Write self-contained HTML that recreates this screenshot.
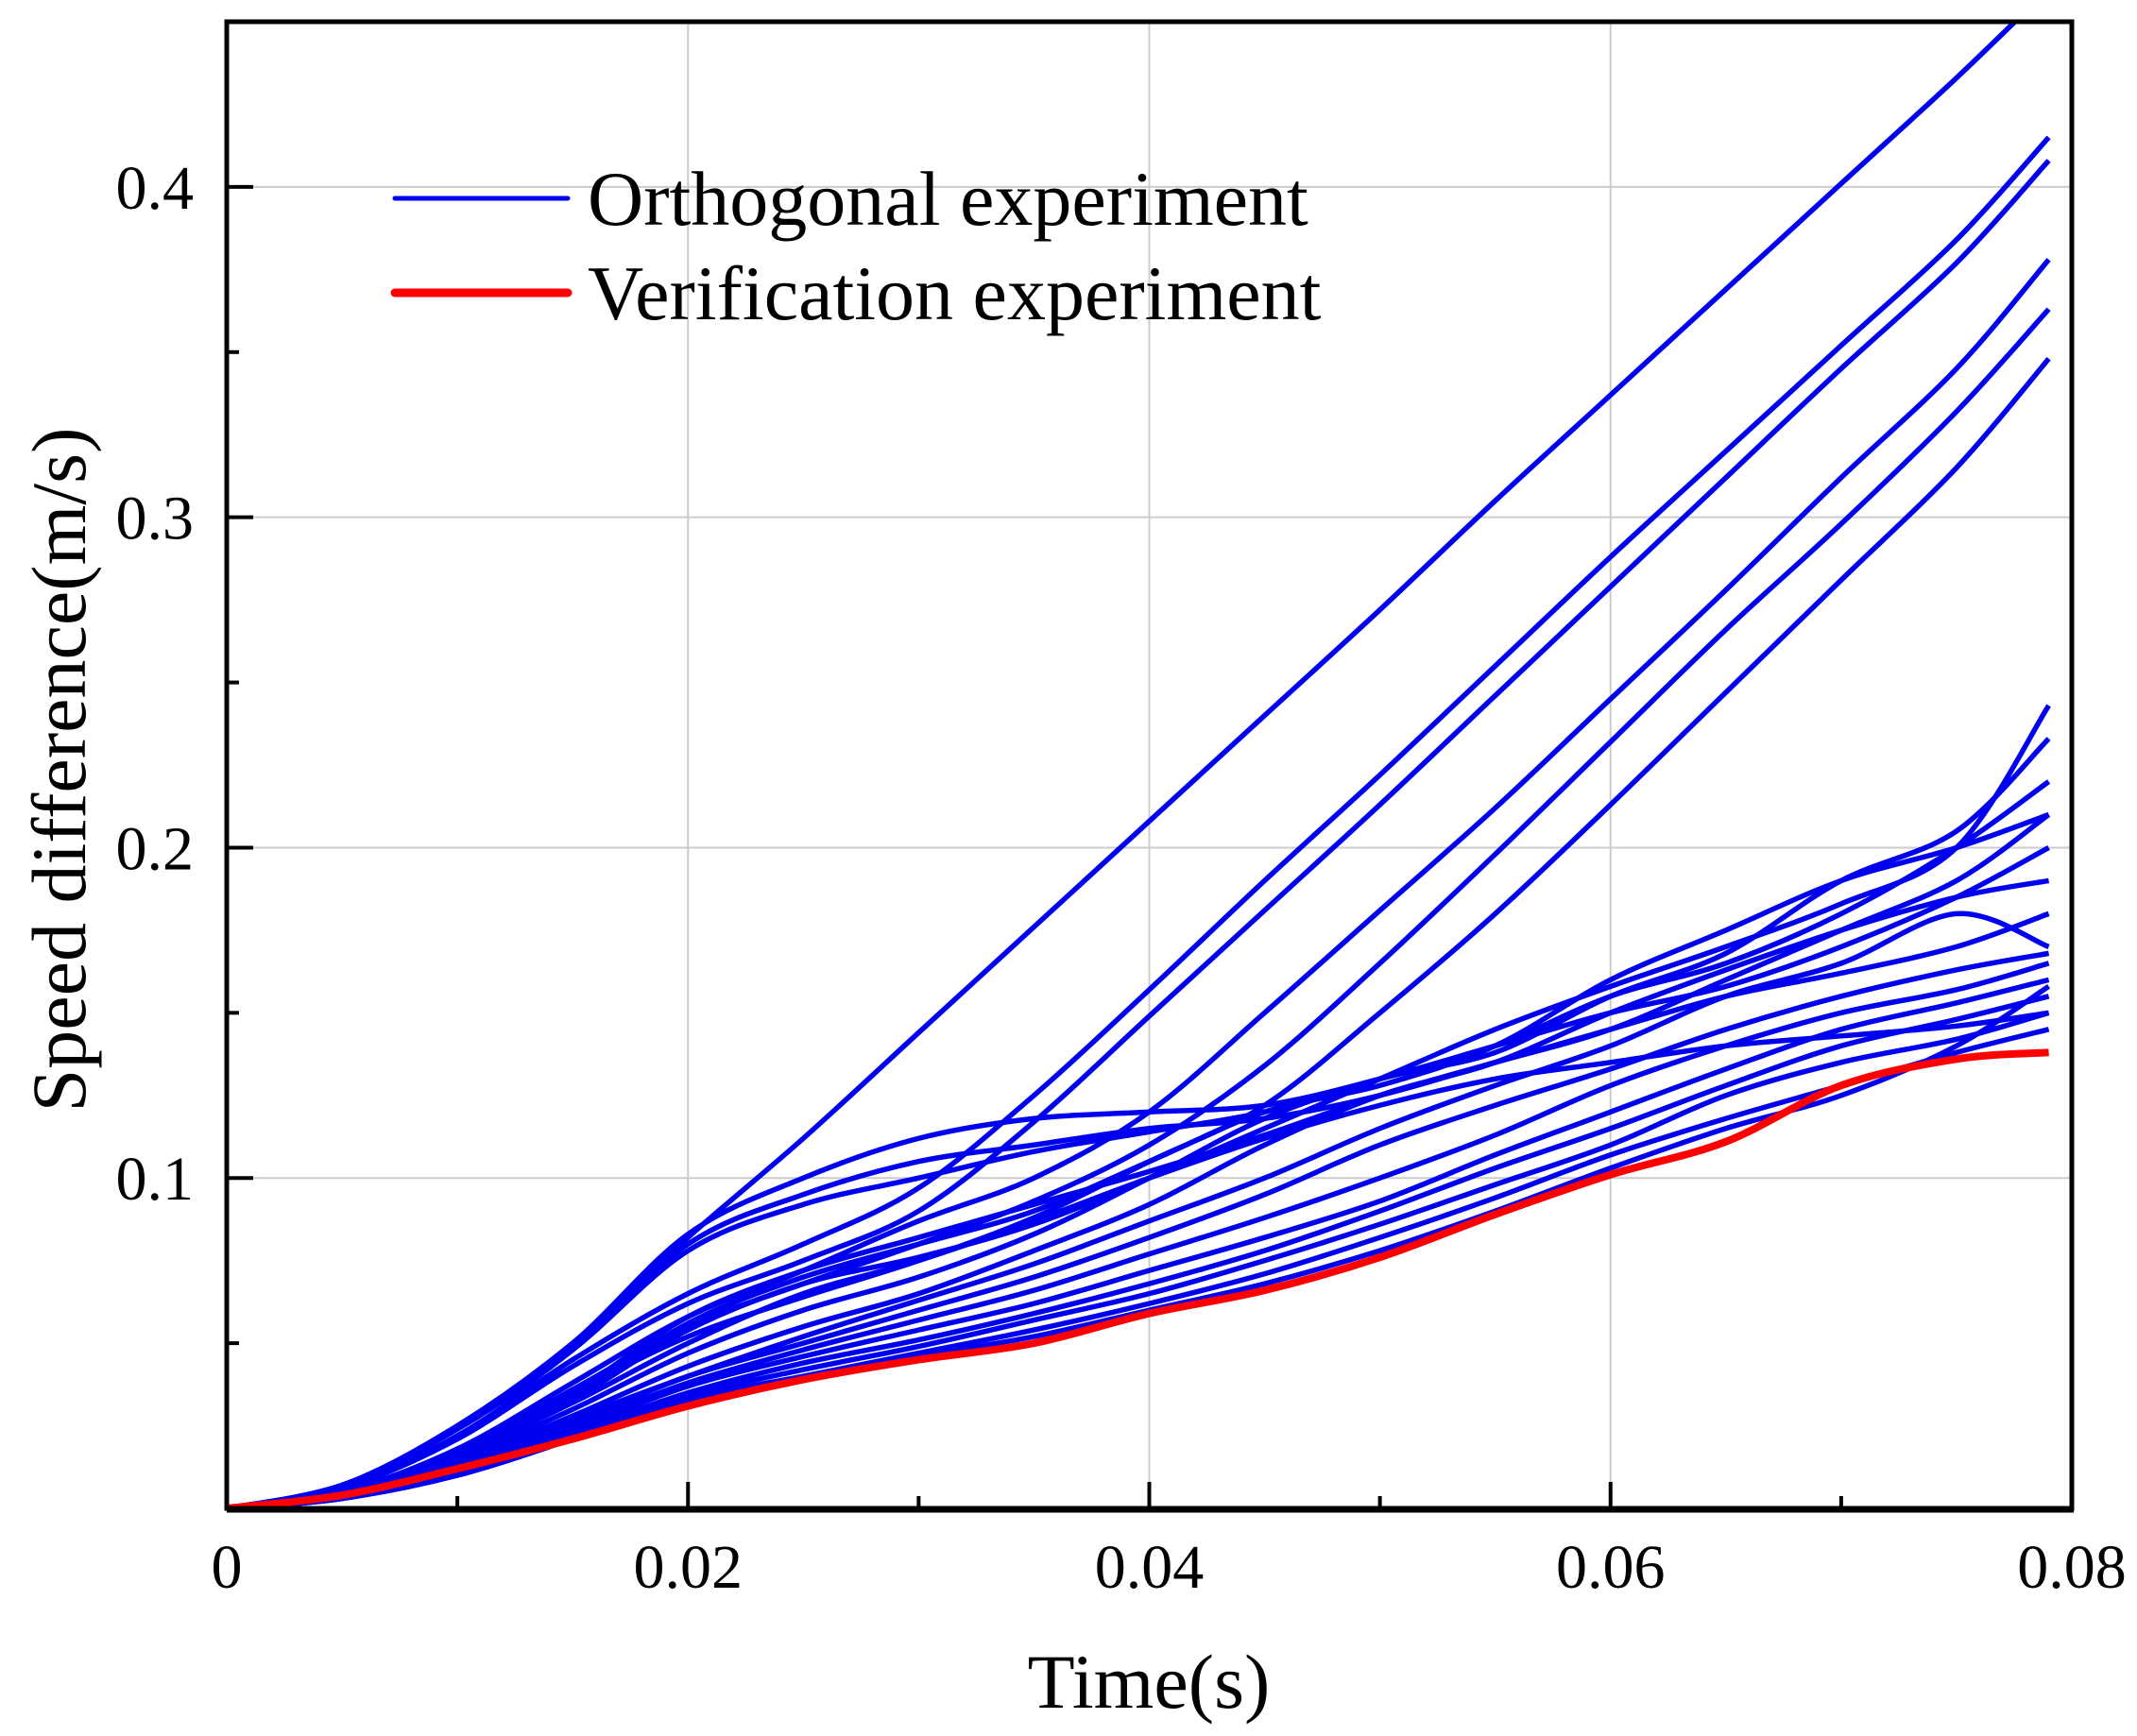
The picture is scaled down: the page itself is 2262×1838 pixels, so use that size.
<!DOCTYPE html>
<html><head><meta charset="utf-8"><style>
html,body{margin:0;padding:0;background:#fff;}
svg{display:block;font-family:"Liberation Serif",serif;}
</style></head><body>
<svg id="chart" width="2262" height="1838" viewBox="0 0 2262 1838" xmlns="http://www.w3.org/2000/svg">
<defs><clipPath id="pc"><rect x="240" y="23" width="1953" height="1574"/></clipPath></defs>
<g id="grid"></g>
<g id="series" clip-path="url(#pc)"></g>
<g id="axes"></g>
<g>
<line x1="418" y1="210" x2="601" y2="210" stroke="#0000f0" stroke-width="5" stroke-linecap="round"/>
<text x="622" y="238" font-size="82">Orthogonal experiment</text>
<line x1="418" y1="310" x2="601" y2="310" stroke="#ff0000" stroke-width="9" stroke-linecap="round"/>
<text x="622" y="338" font-size="82">Verification experiment</text>
</g>
<text x="1216" y="1808" font-size="82" text-anchor="middle">Time(s)</text>
<text transform="translate(90,815) rotate(-90)" font-size="82" text-anchor="middle">Speed difference(m/s)</text>
</svg>
<script>
const times=[0,0.005,0.01,0.015,0.02,0.025,0.03,0.035,0.04,0.045,0.05,0.055,0.06,0.065,0.07,0.075,0.079];
const xTicks=[0,0.02,0.04,0.06,0.08];
const xTickLabels=["0","0.02","0.04","0.06","0.08"];
const yTicks=[0.1,0.2,0.3,0.4];
const yTickLabels=["0.1","0.2","0.3","0.4"];
const verification=[0,0.004,0.012,0.021,0.031,0.039,0.045,0.05,0.059,0.066,0.076,0.089,0.101,0.111,0.128,0.136,0.138];
const L1=[0,0.007,0.025,0.05,0.082,0.112,0.144,0.176,0.208,0.24,0.272,0.305,0.337,0.369,0.401,0.433,0.46];
const L2=[0,0.006,0.022,0.045,0.065,0.08,0.097,0.125,0.157,0.19,0.222,0.255,0.288,0.32,0.352,0.384,0.415];
const L3=[0,0.006,0.021,0.043,0.062,0.075,0.09,0.117,0.149,0.181,0.213,0.246,0.279,0.312,0.345,0.377,0.408];
const L4=[0,0.005,0.018,0.038,0.058,0.072,0.087,0.1,0.12,0.15,0.181,0.212,0.245,0.278,0.312,0.345,0.378];
const L5=[0,0.005,0.017,0.036,0.055,0.068,0.08,0.093,0.11,0.134,0.165,0.198,0.232,0.266,0.298,0.332,0.363];
const L6=[0,0.005,0.017,0.035,0.052,0.064,0.075,0.088,0.105,0.122,0.15,0.18,0.213,0.247,0.281,0.315,0.348];
const P1=[0,0.007,0.025,0.05,0.083,0.1,0.112,0.118,0.12,0.122,0.13,0.14,0.15,0.158,0.17,0.185,0.2];
const P2=[0,0.007,0.024,0.048,0.08,0.095,0.105,0.11,0.115,0.118,0.125,0.135,0.145,0.16,0.175,0.19,0.21];
const P3=[0,0.007,0.024,0.048,0.078,0.092,0.1,0.108,0.114,0.12,0.13,0.14,0.155,0.165,0.18,0.2,0.22];
const M1=[0,0.005,0.017,0.035,0.058,0.072,0.082,0.092,0.102,0.113,0.125,0.135,0.145,0.155,0.162,0.17,0.18];
const M2=[0,0.005,0.016,0.033,0.054,0.068,0.076,0.086,0.1,0.115,0.13,0.145,0.158,0.17,0.183,0.2,0.243];
const M3=[0,0.005,0.015,0.03,0.047,0.06,0.07,0.083,0.1,0.118,0.13,0.138,0.155,0.168,0.19,0.205,0.233];
const M4=[0,0.004,0.014,0.028,0.043,0.055,0.065,0.078,0.092,0.11,0.125,0.135,0.15,0.163,0.175,0.185,0.19];
const M5=[0,0.004,0.013,0.027,0.04,0.052,0.063,0.074,0.087,0.1,0.115,0.128,0.14,0.155,0.165,0.18,0.17];
const M6=[0,0.004,0.013,0.026,0.04,0.05,0.06,0.07,0.082,0.095,0.11,0.122,0.133,0.145,0.155,0.163,0.168];
const M7=[0,0.004,0.012,0.025,0.038,0.048,0.057,0.066,0.077,0.088,0.1,0.113,0.128,0.14,0.15,0.157,0.165];
const M8=[0,0.004,0.012,0.024,0.037,0.046,0.054,0.062,0.072,0.082,0.093,0.107,0.12,0.133,0.145,0.153,0.16];
const M9=[0,0.003,0.011,0.023,0.035,0.044,0.051,0.059,0.068,0.078,0.09,0.103,0.115,0.128,0.14,0.148,0.155];
const M10=[0,0.003,0.011,0.022,0.034,0.042,0.049,0.057,0.065,0.075,0.086,0.098,0.11,0.125,0.135,0.142,0.15];
const M11=[0,0.003,0.01,0.021,0.033,0.04,0.047,0.054,0.062,0.071,0.082,0.094,0.107,0.118,0.128,0.138,0.145];
const M12=[0,0.003,0.01,0.021,0.032,0.039,0.046,0.052,0.06,0.068,0.078,0.09,0.103,0.115,0.125,0.14,0.158];
const M13=[0,0.005,0.016,0.032,0.05,0.065,0.075,0.087,0.1,0.112,0.122,0.13,0.135,0.14,0.143,0.146,0.15];
const M14=[0,0.005,0.017,0.034,0.056,0.07,0.08,0.09,0.105,0.12,0.128,0.14,0.16,0.175,0.19,0.2,0.21];
const orthogonal=[L1,L2,L3,L4,L5,L6,P1,P2,P3,M1,M2,M3,M4,M5,M6,M7,M8,M9,M10,M11,M12,M13,M14];

const X0=240,X1=2193,Y0=1597,Y1=23,XMAX=0.08,YMAX=0.45;
const xs=v=>X0+(X1-X0)*v/XMAX;
const ys=v=>Y0-(Y0-Y1)*v/YMAX;
const NS="http://www.w3.org/2000/svg";
function mk(tag,attrs,parent){const e=document.createElementNS(NS,tag);for(const k in attrs)e.setAttribute(k,attrs[k]);parent.appendChild(e);return e;}
const grid=document.getElementById('grid'),axes=document.getElementById('axes'),series=document.getElementById('series');
xTicks.forEach((t,i)=>{
  if(i>0&&i<xTicks.length-1){const g=mk('line',{x1:xs(t),x2:xs(t),y1:Y1,y2:Y0,stroke:'#cccccc','stroke-width':2},grid);
  
  }
});
yTicks.forEach(t=>{const g=mk('line',{x1:X0,x2:X1,y1:ys(t),y2:ys(t),stroke:'#cccccc','stroke-width':2},grid);
  
  });
function pathD(vals){
  const p=vals.map((v,i)=>[xs(times[i]),ys(v)]);
  let d='M'+p[0][0]+','+p[0][1];
  for(let i=0;i<p.length-1;i++){
    const a=p[Math.max(0,i-1)],b=p[i],c=p[i+1],e=p[Math.min(p.length-1,i+2)];
    const c1x=b[0]+(c[0]-a[0])/6,c1y=b[1]+(c[1]-a[1])/6,c2x=c[0]-(e[0]-b[0])/6,c2y=c[1]-(e[1]-b[1])/6;
    d+=' C'+c1x+','+c1y+' '+c2x+','+c2y+' '+c[0]+','+c[1];
  }
  return d;
}
orthogonal.forEach((s,i)=>{const p=mk('path',{d:pathD(s),fill:'none',stroke:'#0000f0','stroke-width':5.5,'stroke-linejoin':'round'},series);
  
  });
const rp=mk('path',{d:pathD(verification),fill:'none',stroke:'#ff0000','stroke-width':8,'stroke-linejoin':'round'},series);


const fr=mk('rect',{x:X0,y:Y1,width:X1-X0,height:Y0-Y1,fill:'none',stroke:'#000','stroke-width':5},axes);


const bl=mk('line',{x1:X0,x2:X1+2,y1:Y0+1,y2:Y0+1,stroke:'#000','stroke-width':7},axes);


for(let k=0;k<8;k++){const t=k*0.01;const major=k%2===0;
  const l=mk('line',{x1:xs(t),x2:xs(t),y1:Y0,y2:Y0-(major?28:13),stroke:'#000','stroke-width':4},axes);
  
  }
for(let k=1;k<9;k++){const t=k*0.05;const major=k%2===0;
  const l=mk('line',{x1:X0,x2:X0+(major?28:13),y1:ys(t),y2:ys(t),stroke:'#000','stroke-width':4},axes);
  
  }
xTicks.forEach((t,i)=>{const tx=mk('text',{x:xs(t),y:1681,'font-size':66,'text-anchor':'middle'},axes);tx.textContent=xTickLabels[i];
  
  });
yTicks.forEach((t,i)=>{const tx=mk('text',{x:205,y:ys(t)+23,'font-size':66,'text-anchor':'end'},axes);tx.textContent=yTickLabels[i];
  
  });
</script>
</body></html>
